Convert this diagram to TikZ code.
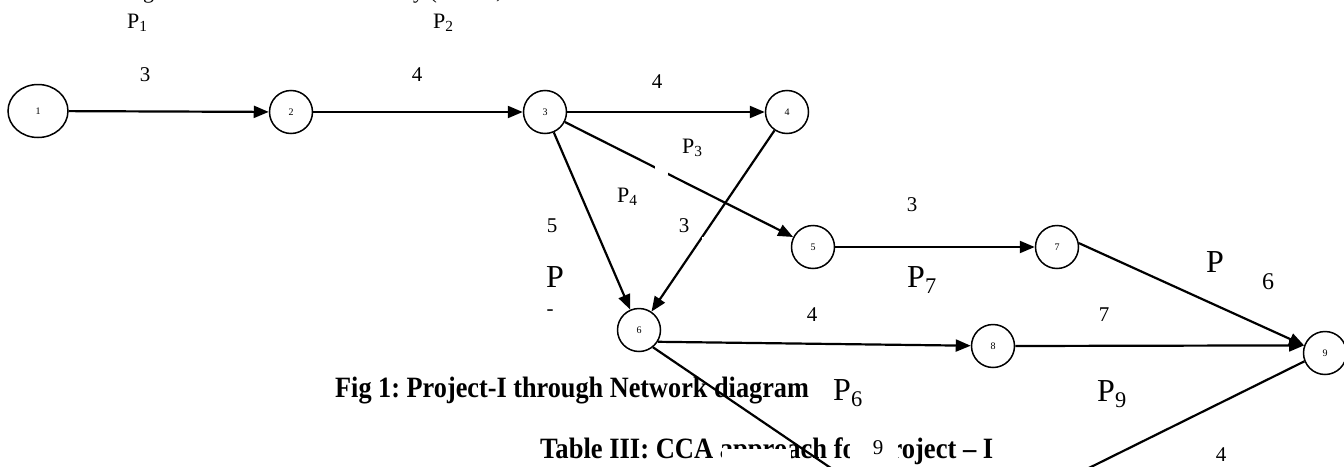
\documentclass[tikz,border=0pt]{standalone}
\usepackage{fontspec}
\setmainfont{Liberation Serif}
\usetikzlibrary{arrows.meta,shapes.geometric}
\frenchspacing
\begin{document}
\begin{tikzpicture}[x=1pt,y=-1pt,
  ev/.style={circle,draw,line width=1.5pt,minimum size=43pt,inner sep=0pt,font=\fontsize{10}{12}\selectfont},
  conn/.style={line width=2.2pt},
  arr/.style={conn,-{Triangle[length=15pt,width=12pt]}},
  num/.style={font=\fontsize{21}{24}\selectfont,inner sep=0pt},
  psm/.style={font=\fontsize{22}{26}\selectfont,inner sep=0pt,anchor=base west},
  pbig/.style={font=\fontsize{32}{36}\selectfont,inner sep=0pt,anchor=base west},
  captext/.style={font=\fontsize{29.5}{33}\selectfont\bfseries,inner sep=0pt,anchor=base west},
  gap/.style={fill=white,draw=none},
]
\useasboundingbox (0,0) rectangle (1344,466);
\clip (0,0) rectangle (1344,466);
% cut-off line above the picture
\node[psm] (top1) at (143,-2) {g};
\node[psm] (top2) at (413,-2) {y (};
\node[psm] (top3) at (496,-2) {,};
% captions
\node[captext] (cap1) at (335,397) {\scalebox{0.89}[1]{Fig 1: Project-I through Network diagram}};
\node[captext] (cap2) at (540,458) {\scalebox{0.9}[1]{Table III: CCA approach for Project -- I}};
\fill[gap] (722,449) rectangle (791,466);
\fill[gap] (850,430) rectangle (898,466);
% events
\node[ellipse,draw,line width=1.5pt,minimum width=60pt,minimum height=53pt,inner sep=0pt,font=\fontsize{10}{12}\selectfont] (n1) at (38,111) {1};
\node[ev] (n2) at (291,112) {2};
\node[ev] (n3) at (545,112) {3};
\node[ev] (n4) at (787,112) {4};
\node[ev] (n5) at (813,247) {5};
\node[ev] (n6) at (639,330) {6};
\node[ev] (n7) at (1057,247) {7};
\node[ev] (n8) at (993,346) {8};
\node[ev] (n9) at (1325,353) {9};
\coordinate (out6) at (900,515);
\coordinate (out9) at (1000,512);
% activities
\draw[arr] (n1) -- (n2);
\draw[arr] (n2) -- (n3);
\draw[arr] (n3) -- (n4);
\draw[arr] (n3) -- (n5);
\draw[arr] (n3) -- (n6);
\draw[arr] (n4) -- (n6);
\draw[arr] (n5) -- (n7);
\draw[arr] (n6.-32) -- (n8);
\draw[arr] (n8.east) -- (n9.160);
\draw[arr] (n7.10) -- (n9.160);
\draw[conn] (n6.-51) -- (out6);
\draw[conn] (n9.202) -- (out9);
\fill[gap] (655,164) rectangle (668,175);
\fill[gap] (702,237) rectangle (711,250);
% labels
\node[psm] (p1) at (127,28) {P\textsubscript{1}};
\node[psm] (p2) at (433,28) {P\textsubscript{2}};
\node[psm] (p3) at (682,153) {P\textsubscript{3}};
\node[psm] (p4) at (617,202) {P\textsubscript{4}};
\node[pbig] (p5) at (546,287) {P};
\node[pbig] (p7) at (907,287) {P\textsubscript{7}};
\node[pbig] (p8) at (1206,272) {P};
\node[pbig,fill=white] (p6) at (833,400) {P\textsubscript{6}};
\node[pbig] (p9) at (1097,401) {P\textsubscript{9}};
\node[num] (d12) at (145,75) {3};
\node[num] (d23) at (417,75) {4};
\node[num] (d34) at (657,82) {4};
\node[num] (d36) at (552,226) {5};
\node[num] (d46) at (684,226) {3};
\node[num] (d57) at (912,205) {3};
\node[num,font=\fontsize{24}{28}\selectfont] (d79) at (1268,282) {6};
\node[num] (d68) at (812,315) {4};
\node[num] (d89) at (1104,315) {7};
\node[num] (d9t) at (878,448) {9};
\node[num] (d9o) at (1221,455) {4};
\node[num] (dash) at (550,313) {-};
\end{tikzpicture}
\end{document}
